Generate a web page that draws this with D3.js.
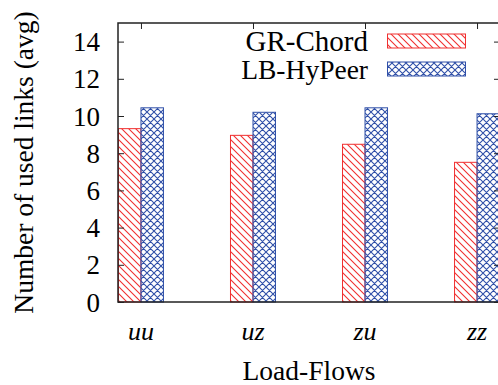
<!DOCTYPE html>
<html><head><meta charset="utf-8">
<script src="https://cdn.jsdelivr.net/npm/d3@7"></script>
<style>body{margin:0;background:#fff}svg{display:block}text{font-family:"Liberation Serif","Times New Roman",serif;fill:#000}</style>
</head><body><svg id="c" width="498" height="385"></svg>
<script>
const categories = ["uu", "uz", "zu", "zz"];
const seriesNames = ["GR-Chord", "LB-HyPeer"];
const grChord = [9.32, 8.96, 8.48, 7.51];
const lbHyPeer = [10.44, 10.2, 10.44, 10.12];
const yTicks = [0, 2, 4, 6, 8, 10, 12, 14];

const svg = d3.select("#c");
const L = 118, T = 23, R = 500, B = 302;
const red = "#f03030", blue = "#3050a8";

const x = d3.scaleLinear().domain([-0.205, 3.205]).range([L, R]);
const y = d3.scaleLinear().domain([0, 15]).range([B, T]);
const barW = 22.5;

const defs = svg.append("defs");
const p1 = defs.append("pattern").attr("id", "hatchR").attr("patternUnits", "userSpaceOnUse").attr("width", 7).attr("height", 7);
p1.append("path").attr("d", "M0,0L7,7M-1,6L1,8M6,-1L8,1").attr("stroke", red).attr("stroke-width", 1.1);
const p2 = defs.append("pattern").attr("id", "hatchB").attr("patternUnits", "userSpaceOnUse").attr("width", 7).attr("height", 7);
p2.append("path").attr("d", "M0,0L7,7M-1,6L1,8M6,-1L8,1M7,0L0,7M-1,1L1,-1M6,8L8,6").attr("stroke", blue).attr("stroke-width", 1.1);

const series = [
  {name: seriesNames[0], values: grChord, fill: "url(#hatchR)", color: red, off: -1, fs: 29},
  {name: seriesNames[1], values: lbHyPeer, fill: "url(#hatchB)", color: blue, off: 0, fs: 27.5}
];

series.forEach(s => {
  svg.append("g").selectAll("rect").data(s.values).join("rect")
    .attr("x", (d, i) => x(i) + s.off * barW)
    .attr("y", d => y(d))
    .attr("width", barW)
    .attr("height", d => y(0) - y(d))
    .attr("fill", s.fill)
    .attr("stroke", s.color)
    .attr("stroke-width", 1);
});

// frame
svg.append("rect").attr("x", L).attr("y", T).attr("width", R - L).attr("height", B - T)
  .attr("fill", "none").attr("stroke", "#222").attr("stroke-width", 1.5);

// y axis ticks and labels
const yAxis = d3.axisLeft(y).tickValues(yTicks).tickSize(-6).tickPadding(18);
const gy = svg.append("g").attr("transform", `translate(${L},0)`).call(yAxis);
gy.select(".domain").remove();
gy.selectAll("line").attr("stroke", "#222");
gy.selectAll("text").attr("font-size", 27).attr("font-family", "Liberation Serif").attr("fill", "#000").attr("dy", "0.34em");
const gyr = svg.append("g").attr("transform", `translate(${R},0)`).call(d3.axisRight(y).tickValues(yTicks).tickSize(-6).tickFormat(""));
gyr.select(".domain").remove();
gyr.selectAll("line").attr("stroke", "#222");

// x top ticks
const gxt = svg.append("g").attr("transform", `translate(0,${T})`).call(d3.axisTop(x).tickValues(d3.range(categories.length)).tickSize(-6).tickFormat(""));
gxt.select(".domain").remove();
gxt.selectAll("line").attr("stroke", "#222");

// x labels
svg.append("g").selectAll("text").data(categories).join("text")
  .attr("x", (d, i) => x(i)).attr("y", 340).attr("text-anchor", "middle")
  .attr("font-size", 26).attr("font-style", "italic").text(d => d);

svg.append("text").attr("x", (L + R) / 2).attr("y", 380).attr("text-anchor", "middle")
  .attr("font-size", 27.5).text("Load-Flows");

svg.append("text").attr("transform", `translate(33,${(T + B) / 2}) rotate(-90)`)
  .attr("text-anchor", "middle").attr("font-size", 27.5).text("Number of used links (avg)");

// legend
series.forEach((s, i) => {
  const yy = 41 + i * 28;
  svg.append("text").attr("x", 368).attr("y", yy + 10).attr("text-anchor", "end").attr("font-size", s.fs).text(s.name);
  svg.append("rect").attr("x", 387.5).attr("y", yy - 7).attr("width", 78).attr("height", 14)
    .attr("fill", s.fill).attr("stroke", s.color).attr("stroke-width", 1);
});
</script></body></html>
